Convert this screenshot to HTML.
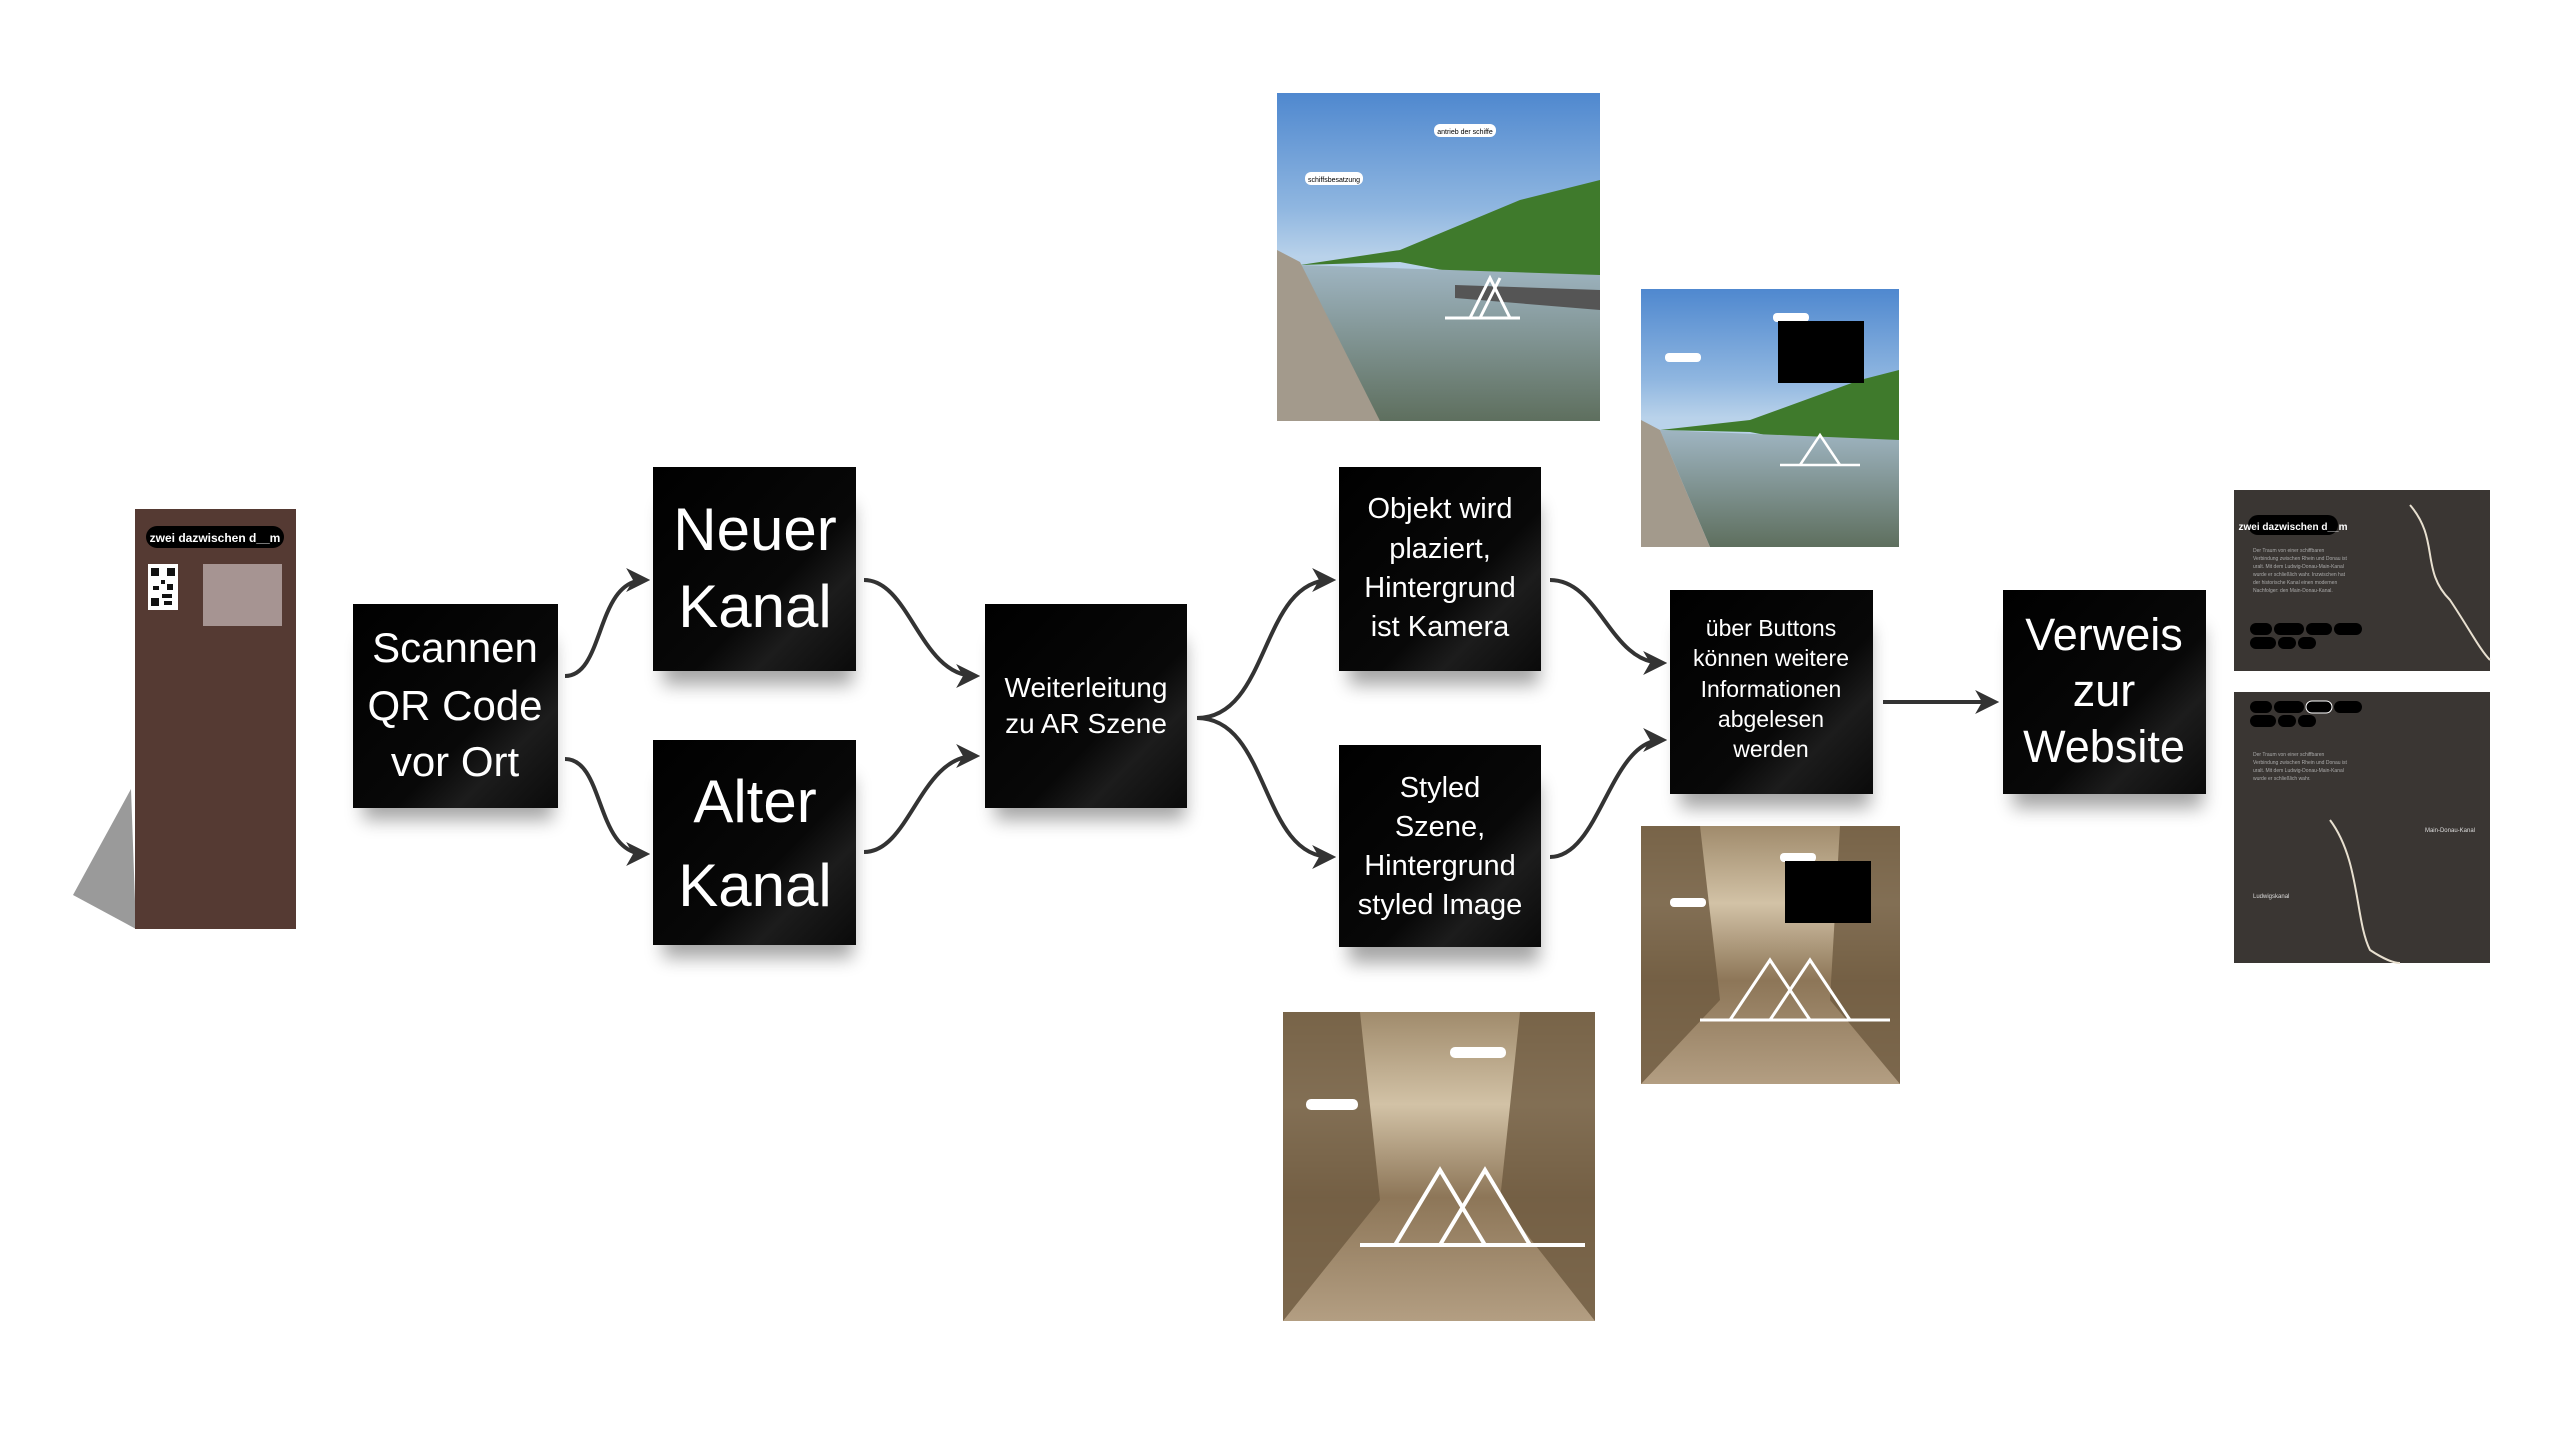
<!DOCTYPE html>
<html><head><meta charset="utf-8"><style>
html,body{margin:0;padding:0;background:#fff;width:2560px;height:1440px;overflow:hidden}
svg{display:block}
text{font-family:"Liberation Sans",sans-serif}
</style></head><body>
<svg width="2560" height="1440" viewBox="0 0 2560 1440" xmlns="http://www.w3.org/2000/svg">
<defs>
<linearGradient id="box" x1="0" y1="0" x2="1" y2="1">
<stop offset="0" stop-color="#000"/><stop offset="0.6" stop-color="#080808"/><stop offset="0.75" stop-color="#1c1c1c"/><stop offset="1" stop-color="#0a0a0a"/></linearGradient>
<filter id="sh" x="-20%" y="-10%" width="140%" height="140%"><feGaussianBlur stdDeviation="9"/></filter>
<linearGradient id="sky" x1="0" y1="0" x2="0" y2="1"><stop offset="0" stop-color="#4f88cf"/><stop offset="0.35" stop-color="#8fb6e0"/><stop offset="0.5" stop-color="#b9d2ea"/></linearGradient>
<linearGradient id="water" x1="0" y1="0" x2="0" y2="1"><stop offset="0" stop-color="#9fb5c2"/><stop offset="1" stop-color="#5e6f5e"/></linearGradient>
<linearGradient id="sep" x1="0" y1="0" x2="0" y2="1"><stop offset="0" stop-color="#a08b6c"/><stop offset="0.3" stop-color="#d2c2a6"/><stop offset="0.6" stop-color="#8d7658"/><stop offset="1" stop-color="#b39e82"/></linearGradient>
<marker id="ah" viewBox="0 0 14 14" refX="11" refY="7" markerWidth="6" markerHeight="6" orient="auto" markerUnits="strokeWidth">
<path d="M0,0 L14,7 L0,14 L4,7 z" fill="#333"/></marker>
</defs>

<!-- pillar -->
<polygon points="73,895 131,789 136,929" fill="#9a9a9a"/>
<rect x="135" y="509" width="161" height="420" fill="#553a33"/>
<rect x="146" y="526" width="138" height="22" rx="11" fill="#000"/>
<text x="215" y="542" font-size="12" font-weight="bold" fill="#fff" text-anchor="middle">zwei dazwischen d__m</text>
<rect x="148" y="564" width="30" height="46" fill="#fff"/>
<g fill="#111"><rect x="151" y="568" width="8" height="8"/><rect x="167" y="568" width="8" height="8"/><rect x="151" y="598" width="8" height="8"/><rect x="161" y="580" width="4" height="4"/><rect x="153" y="586" width="6" height="4"/><rect x="167" y="584" width="6" height="6"/><rect x="162" y="594" width="10" height="4"/><rect x="164" y="601" width="8" height="4"/></g>
<rect x="203" y="564" width="79" height="62" fill="#a69492"/>

<!-- boxes -->
<g>
<rect x="363" y="640" width="190" height="180" fill="#000" opacity="0.35" filter="url(#sh)"/>
<rect x="353" y="604" width="205" height="204" fill="url(#box)"/>
<text fill="#fff" font-size="42" text-anchor="middle"><tspan x="455" y="662">Scannen</tspan><tspan x="455" y="720">QR Code</tspan><tspan x="455" y="776">vor Ort</tspan></text>

<rect x="663" y="505" width="190" height="180" fill="#000" opacity="0.35" filter="url(#sh)"/>
<rect x="653" y="467" width="203" height="204" fill="url(#box)"/>
<text fill="#fff" font-size="60" text-anchor="middle"><tspan x="755" y="550">Neuer</tspan><tspan x="755" y="627">Kanal</tspan></text>

<rect x="663" y="778" width="190" height="180" fill="#000" opacity="0.35" filter="url(#sh)"/>
<rect x="653" y="740" width="203" height="205" fill="url(#box)"/>
<text fill="#fff" font-size="60" text-anchor="middle"><tspan x="755" y="822">Alter</tspan><tspan x="755" y="906">Kanal</tspan></text>

<rect x="995" y="640" width="190" height="180" fill="#000" opacity="0.35" filter="url(#sh)"/>
<rect x="985" y="604" width="202" height="204" fill="url(#box)"/>
<text fill="#fff" font-size="28" text-anchor="middle"><tspan x="1086" y="697">Weiterleitung</tspan><tspan x="1086" y="733">zu AR Szene</tspan></text>

<rect x="1349" y="505" width="190" height="180" fill="#000" opacity="0.35" filter="url(#sh)"/>
<rect x="1339" y="467" width="202" height="204" fill="url(#box)"/>
<text fill="#fff" font-size="29" text-anchor="middle"><tspan x="1440" y="518">Objekt wird</tspan><tspan x="1440" y="558">plaziert,</tspan><tspan x="1440" y="597">Hintergrund</tspan><tspan x="1440" y="636">ist Kamera</tspan></text>

<rect x="1349" y="783" width="190" height="180" fill="#000" opacity="0.35" filter="url(#sh)"/>
<rect x="1339" y="745" width="202" height="202" fill="url(#box)"/>
<text fill="#fff" font-size="29" text-anchor="middle"><tspan x="1440" y="797">Styled</tspan><tspan x="1440" y="836">Szene,</tspan><tspan x="1440" y="875">Hintergrund</tspan><tspan x="1440" y="914">styled Image</tspan></text>

<rect x="1680" y="628" width="190" height="180" fill="#000" opacity="0.35" filter="url(#sh)"/>
<rect x="1670" y="590" width="203" height="204" fill="url(#box)"/>
<text fill="#fff" font-size="23" text-anchor="middle"><tspan x="1771" y="636">über Buttons</tspan><tspan x="1771" y="666">können weitere</tspan><tspan x="1771" y="697">Informationen</tspan><tspan x="1771" y="727">abgelesen</tspan><tspan x="1771" y="757">werden</tspan></text>

<rect x="2013" y="628" width="190" height="180" fill="#000" opacity="0.35" filter="url(#sh)"/>
<rect x="2003" y="590" width="203" height="204" fill="url(#box)"/>
<text fill="#fff" font-size="45" text-anchor="middle"><tspan x="2104" y="650">Verweis</tspan><tspan x="2104" y="706">zur</tspan><tspan x="2104" y="762">Website</tspan></text>
</g>

<!-- connectors -->
<g fill="none" stroke="#333" stroke-width="4" marker-end="url(#ah)">
<path d="M565,676 C605,676 595,580 645,580"/>
<path d="M565,759 C605,759 595,854 645,854"/>
<path d="M864,580 C910,580 920,676 975,676"/>
<path d="M864,852 C910,852 920,756 975,756"/>
<path d="M1197,718 C1270,718 1260,580 1331,580"/>
<path d="M1197,718 C1270,718 1260,857 1331,857"/>
<path d="M1550,580 C1600,580 1610,663 1662,663"/>
<path d="M1550,857 C1600,857 1610,740 1662,740"/>
<path d="M1883,702 L1994,702"/>
</g>

<!-- photo 1 -->
<g>
<rect x="1277" y="93" width="323" height="328" fill="url(#sky)"/>
<polygon points="1300,265 1400,250 1520,200 1600,180 1600,300 1400,262" fill="#3f7a2c"/>
<polygon points="1300,265 1600,275 1600,421 1360,421" fill="url(#water)"/>
<polygon points="1277,250 1300,262 1380,421 1277,421" fill="#a39a8c"/>
<polygon points="1455,285 1600,290 1600,310 1455,298" fill="#555"/>
<rect x="1434" y="124" width="62" height="13" rx="6" fill="#fff"/>
<text x="1465" y="134" font-size="7" text-anchor="middle">antrieb der schiffe</text>
<rect x="1305" y="172" width="58" height="13" rx="6" fill="#fff"/>
<text x="1334" y="182" font-size="7" text-anchor="middle">schiffsbesatzung</text>
<g stroke="#fff" stroke-width="3" fill="none"><path d="M1445,318 L1520,318 M1470,318 L1490,278 L1510,318 M1480,318 L1500,278"/></g>
</g>

<!-- photo 2 -->
<g>
<rect x="1641" y="289" width="258" height="258" fill="url(#sky)"/>
<polygon points="1660,430 1750,420 1860,380 1899,370 1899,460 1750,432" fill="#3f7a2c"/>
<polygon points="1660,430 1899,440 1899,547 1710,547" fill="url(#water)"/>
<polygon points="1641,420 1660,430 1710,547 1641,547" fill="#a39a8c"/>
<rect x="1773" y="313" width="36" height="9" rx="4" fill="#fff"/>
<rect x="1778" y="321" width="86" height="62" fill="#000"/>
<rect x="1665" y="353" width="36" height="9" rx="4" fill="#fff"/>
<g stroke="#fff" stroke-width="2.5" fill="none"><path d="M1780,465 L1860,465 M1800,465 L1820,435 L1840,465"/></g>
</g>

<!-- sepia 1 -->
<g>
<rect x="1283" y="1012" width="312" height="309" fill="url(#sep)"/>
<polygon points="1283,1012 1360,1012 1380,1200 1283,1321" fill="#6e5a40" opacity="0.8"/>
<polygon points="1520,1012 1595,1012 1595,1321 1500,1200" fill="#6e5a40" opacity="0.8"/>
<rect x="1450" y="1047" width="56" height="11" rx="5" fill="#fff"/>
<rect x="1306" y="1099" width="52" height="11" rx="5" fill="#fff"/>
<g stroke="#fff" stroke-width="4" fill="none"><path d="M1360,1245 L1585,1245 M1395,1245 L1440,1170 L1485,1245 M1440,1245 L1485,1170 L1530,1245"/></g>
</g>

<!-- sepia 2 -->
<g>
<rect x="1641" y="826" width="259" height="258" fill="url(#sep)"/>
<polygon points="1641,826 1700,826 1720,1000 1641,1084" fill="#6e5a40" opacity="0.8"/>
<polygon points="1840,826 1900,826 1900,1084 1830,1000" fill="#6e5a40" opacity="0.8"/>
<rect x="1780" y="853" width="36" height="9" rx="4" fill="#fff"/>
<rect x="1785" y="861" width="86" height="62" fill="#000"/>
<rect x="1670" y="898" width="36" height="9" rx="4" fill="#fff"/>
<g stroke="#fff" stroke-width="3" fill="none"><path d="M1700,1020 L1890,1020 M1730,1020 L1770,960 L1810,1020 M1770,1020 L1810,960 L1850,1020"/></g>
</g>

<!-- maps -->
<g>
<rect x="2234" y="490" width="256" height="181" fill="#3a3633"/>
<path d="M2410,505 C2440,540 2420,570 2450,600 C2470,630 2480,650 2490,660" stroke="#e8e0d0" stroke-width="2" fill="none"/>
<rect x="2248" y="515" width="90" height="20" rx="10" fill="#000"/>
<text x="2293" y="530" font-size="10" font-weight="bold" fill="#fff" text-anchor="middle">zwei dazwischen d__m</text>
<g fill="#aaa" font-size="5"><text x="2253" y="552">Der Traum von einer schiffbaren</text><text x="2253" y="560">Verbindung zwischen Rhein und Donau ist</text><text x="2253" y="568">uralt. Mit dem Ludwig-Donau-Main-Kanal</text><text x="2253" y="576">wurde er schließlich wahr. Inzwischen hat</text><text x="2253" y="584">der historische Kanal einen modernen</text><text x="2253" y="592">Nachfolger: den Main-Donau-Kanal.</text></g>
<g fill="#000"><rect x="2250" y="623" width="22" height="12" rx="6"/><rect x="2274" y="623" width="30" height="12" rx="6"/><rect x="2306" y="623" width="26" height="12" rx="6"/><rect x="2334" y="623" width="28" height="12" rx="6"/><rect x="2250" y="637" width="26" height="12" rx="6"/><rect x="2278" y="637" width="18" height="12" rx="6"/><rect x="2298" y="637" width="18" height="12" rx="6"/></g>
<rect x="2234" y="692" width="256" height="271" fill="#3a3633"/>
<path d="M2330,820 C2360,860 2355,920 2370,950 C2385,960 2395,963 2400,963" stroke="#e8e0d0" stroke-width="2" fill="none"/>
<g fill="#000"><rect x="2250" y="701" width="22" height="12" rx="6"/><rect x="2274" y="701" width="30" height="12" rx="6"/><rect x="2306" y="701" width="26" height="12" rx="6" stroke="#fff"/><rect x="2334" y="701" width="28" height="12" rx="6"/><rect x="2250" y="715" width="26" height="12" rx="6"/><rect x="2278" y="715" width="18" height="12" rx="6"/><rect x="2298" y="715" width="18" height="12" rx="6"/></g>
<g fill="#aaa" font-size="5"><text x="2253" y="756">Der Traum von einer schiffbaren</text><text x="2253" y="764">Verbindung zwischen Rhein und Donau ist</text><text x="2253" y="772">uralt. Mit dem Ludwig-Donau-Main-Kanal</text><text x="2253" y="780">wurde er schließlich wahr.</text></g>
<text x="2475" y="832" font-size="6" fill="#ddd" text-anchor="end">Main-Donau-Kanal</text>
<text x="2253" y="898" font-size="6" fill="#ddd">Ludwigskanal</text>
</g>
</svg>
</body></html>
